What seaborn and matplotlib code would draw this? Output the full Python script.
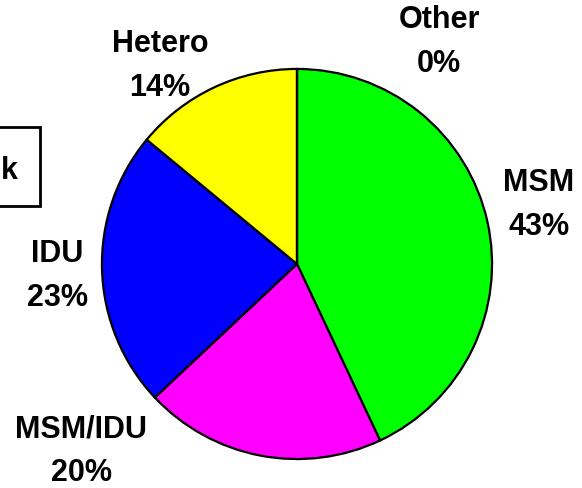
import matplotlib
matplotlib.use("Agg")
import matplotlib.pyplot as plt
import seaborn as sns
from matplotlib.patches import Rectangle

# Transmission categories and their shares (%)
categories = ["MSM", "MSM/IDU", "IDU", "Hetero", "Other"]
shares = [43, 20, 23, 14, 0]
colors = ["#00FF00", "#FF00FF", "#0000FF", "#FFFF00", "#FFFFFF"]

# Label anchor points in pixels (x from left, y from top)
label_pos = {
    "MSM": (539, 205),
    "MSM/IDU": (81, 451),
    "IDU": (57, 276),
    "Hetero": (160, 66),
    "Other": (439, 42),
}

sns.set_style("white")
plt.rcParams["font.family"] = ["Liberation Sans", "DejaVu Sans"]
plt.rcParams["text.color"] = "black"

W, H = 582, 488
fig = plt.figure(figsize=(W / 100, H / 100), dpi=100)

cx, cy, r = 297, 264, 197
ax = fig.add_axes([(cx - r) / W, (H - cy - r) / H, 2 * r / W, 2 * r / H])
ax.pie(
    shares,
    colors=colors,
    startangle=90,
    counterclock=False,
    radius=1,
    wedgeprops=dict(edgecolor="black", linewidth=1.6),
)
ax.set_xlim(-1.01, 1.01)
ax.set_ylim(-1.01, 1.01)
ax.set_aspect("equal")
ax.axis("off")

for name, val in zip(categories, shares):
    px, py = label_pos[name]
    fig.text(px / W, 1 - py / H, f"{name}\n{val}%", ha="center", va="center",
             fontsize=22, fontweight="bold", linespacing=1.6, color="black")

# Framed side caption running off the left edge
fig.patches.append(Rectangle((-10 / W, 1 - 206 / H), 50 / W, 79 / H,
                             transform=fig.transFigure, fill=False,
                             edgecolor="black", linewidth=2))
fig.text(1 / W, 1 - 171 / H, "k", ha="left", va="center",
         fontsize=22, fontweight="bold", color="black")

fig.savefig("out.png", dpi=100)
